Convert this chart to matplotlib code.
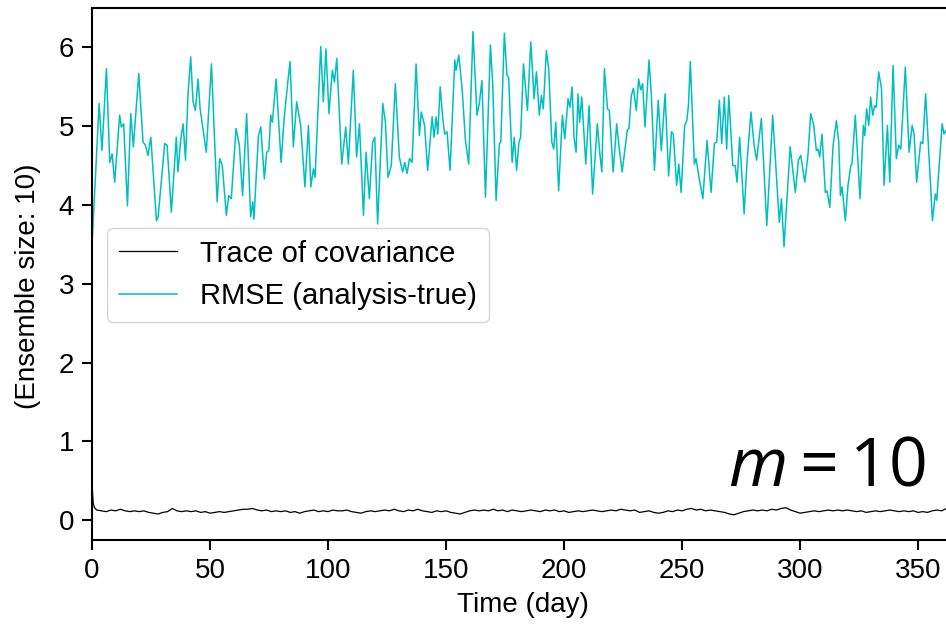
import matplotlib
matplotlib.use("Agg")
import matplotlib.pyplot as plt

# RMSE (analysis-true), turning points
rmse_day = [
    0.0, 3.0, 4.2, 6.1, 7.5, 8.5, 9.6, 11.7, 12.4, 13.4, 15.0, 16.4, 17.5, 19.8,
    21.6, 22.6, 23.7, 24.9, 27.3, 28.0, 30.8, 31.8, 33.6, 35.7, 36.4, 37.6, 38.6,
    39.6, 40.7, 41.8, 42.8, 43.8, 44.9, 45.8, 48.4, 50.6, 53.0, 54.1, 55.2, 56.9,
    57.9, 59.0, 61.0, 62.4, 63.8, 65.5, 67.2, 68.1, 68.6, 70.5, 71.5, 73.0, 74.0,
    74.9, 75.7, 76.4, 78.0, 80.1, 81.4, 82.8, 83.9, 85.3, 86.7, 88.4, 90.2, 91.7,
    92.7, 93.8, 94.5, 96.9, 98.0, 99.1, 100.4, 101.8, 102.7, 103.7, 105.8, 107.5,
    108.6, 110.7, 112.1, 113.3, 115.0, 116.1, 117.5, 118.9, 119.8, 121.0, 123.2,
    124.3, 125.4, 126.8, 128.5, 130.2, 131.6, 132.5, 133.5, 134.5, 135.6, 137.3,
    138.7, 139.5, 140.9, 142.2, 144.1, 144.9, 145.8, 146.5, 147.5, 148.6, 149.4,
    150.4, 151.7, 153.7, 154.2, 155.4, 156.8, 158.2, 159.6, 161.4, 163.1, 164.1,
    165.2, 166.7, 168.8, 169.8, 171.2, 172.6, 173.2, 174.7, 175.8, 176.5, 178.0,
    178.9, 179.9, 180.9, 181.6, 182.8, 184.5, 185.9, 187.3, 188.3, 189.5, 190.4,
    191.2, 192.5, 193.5, 194.8, 195.6, 196.5, 197.7, 199.3, 200.3, 201.7, 202.5,
    203.4, 204.2, 205.1, 205.9, 206.6, 207.5, 209.2, 210.6, 212.1, 214.1, 215.1,
    216.0, 217.1, 218.4, 219.2, 220.8, 222.3, 223.3, 224.6, 226.8, 227.5, 228.5,
    229.4, 230.6, 231.6, 232.5, 233.3, 234.3, 236.0, 237.0, 238.3, 239.9, 241.2,
    242.8, 244.3, 245.5, 246.3, 247.7, 248.6, 249.6, 251.1, 252.0, 252.7, 253.5,
    255.2, 255.9, 257.3, 258.8, 260.6, 262.3, 263.7, 264.7, 265.8, 266.8, 267.9,
    268.9, 269.8, 271.5, 272.5, 273.3, 274.4, 276.3, 277.5, 279.2, 280.6, 281.6,
    283.6, 285.9, 288.4, 291.2, 292.1, 293.2, 295.8, 298.0, 299.3, 300.3, 302.0,
    303.4, 304.5, 305.8, 306.9, 307.6, 308.3, 309.3, 310.7, 311.4, 312.6, 314.0,
    315.4, 316.4, 317.1, 317.8, 319.2, 320.3, 321.5, 322.0, 323.4, 325.4, 326.8,
    327.4, 328.2, 329.1, 329.9, 330.8, 331.6, 332.3, 333.3, 334.5, 335.6, 337.0,
    338.0, 339.4, 340.8, 341.8, 342.7, 344.6, 346.2, 347.5, 348.3, 349.4, 351.1,
    352.0, 353.2, 356.1, 357.3, 357.9, 360.2, 361.0, 361.9, 363.0, 364.5,
]
rmse_val = [
    3.50, 5.29, 4.69, 5.73, 4.54, 4.65, 4.29, 5.14, 4.99, 5.03, 3.99, 5.16, 4.74, 5.67,
    4.80, 4.76, 4.63, 4.86, 3.80, 3.85, 4.78, 4.76, 3.91, 4.86, 4.42, 4.84, 5.03,
    4.57, 5.43, 5.88, 5.31, 5.20, 5.60, 5.22, 4.67, 5.79, 4.04, 4.59, 4.50, 3.87,
    4.12, 4.08, 4.97, 4.76, 4.12, 5.16, 3.85, 4.04, 3.82, 4.88, 4.99, 4.33, 4.67,
    4.69, 5.14, 5.05, 5.60, 4.54, 5.10, 5.52, 5.82, 4.74, 5.31, 5.01, 4.23, 5.01,
    4.23, 4.46, 4.35, 6.01, 5.31, 5.98, 5.16, 5.71, 5.56, 5.86, 4.52, 4.99,
    4.52, 5.71, 4.61, 5.03, 3.87, 4.67, 4.08, 4.80, 4.86, 3.76, 5.29,
    5.05, 4.35, 4.50, 5.54, 4.61, 4.42, 4.54, 4.40, 4.59, 4.54, 5.79,
    4.88, 5.18, 5.01, 4.44, 5.12, 4.86, 5.12, 4.90, 5.50, 5.10, 4.90,
    4.93, 4.44, 5.84, 5.71, 5.90, 5.48, 4.82, 4.52, 6.20, 5.14, 5.29,
    5.58, 4.10, 6.03, 5.52, 4.06, 4.78, 4.80, 6.18, 5.65, 5.62, 4.54,
    4.86, 4.44, 4.80, 4.86, 5.79, 5.20, 6.07, 5.35, 5.69, 5.14, 5.39,
    5.22, 5.96, 5.73, 4.80, 4.71, 5.05, 4.18, 5.14, 4.84, 5.35, 5.24,
    5.50, 4.86, 4.67, 5.41, 5.05, 5.37, 4.52, 5.26, 4.14, 5.03, 4.67,
    4.42, 5.73, 5.22, 5.20, 4.42, 5.03, 4.74, 4.42, 4.95, 4.97, 5.39,
    5.48, 5.20, 5.60, 5.46, 5.54, 4.99, 5.84, 5.39, 4.44, 5.33, 4.69,
    5.41, 4.37, 4.93, 4.90, 4.25, 4.52, 4.16, 5.01, 5.07, 5.26, 5.82,
    4.52, 4.59, 4.33, 4.08, 4.82, 4.16, 4.78, 4.80, 5.33, 4.78, 5.37,
    4.71, 5.39, 4.50, 4.50, 4.29, 4.86, 3.89, 4.54, 5.18, 4.74, 4.57,
    5.10, 3.74, 5.14, 3.78, 4.08, 3.47, 4.74, 4.16, 4.57, 4.63, 4.29,
    4.65, 5.16, 5.01, 4.69, 4.71, 4.61, 4.90, 4.16, 4.18, 3.97, 4.76,
    5.07, 4.80, 4.12, 4.23, 3.80, 4.25, 4.50, 4.52, 5.14, 4.08, 5.01,
    4.88, 5.22, 5.01, 5.37, 5.14, 5.26, 5.24, 5.69, 5.48, 4.25, 5.01,
    4.29, 5.77, 4.59, 4.76, 4.71, 5.75, 4.67, 5.01, 4.90, 4.29, 4.80,
    4.78, 5.41, 3.80, 4.14, 4.06, 5.03, 4.90, 4.95, 4.85, 4.90,
]

# trace of the analysis covariance
trace_day = [0, 0.5, 1] + list(range(2, 366, 2))
trace_val = [
    0.45, 0.22, 0.16,
    0.13, 0.12, 0.11, 0.13, 0.12, 0.14, 0.12, 0.11, 0.12, 0.11,
    0.12, 0.10, 0.09, 0.08, 0.10, 0.11, 0.15, 0.12, 0.11, 0.12,
    0.11, 0.12, 0.10, 0.11, 0.09, 0.10, 0.11, 0.10, 0.11, 0.12,
    0.13, 0.14, 0.14, 0.15, 0.13, 0.12, 0.13, 0.11, 0.12, 0.11,
    0.12, 0.10, 0.11, 0.09, 0.11, 0.12, 0.13, 0.11, 0.12, 0.11,
    0.13, 0.12, 0.12, 0.13, 0.11, 0.10, 0.09, 0.11, 0.12, 0.11,
    0.12, 0.13, 0.12, 0.14, 0.12, 0.11, 0.13, 0.12, 0.14, 0.12,
    0.11, 0.10, 0.12, 0.11, 0.12, 0.10, 0.09, 0.08, 0.10, 0.12,
    0.13, 0.12, 0.13, 0.12, 0.14, 0.12, 0.13, 0.11, 0.13, 0.12,
    0.11, 0.12, 0.13, 0.12, 0.11, 0.13, 0.12, 0.13, 0.11, 0.12,
    0.10, 0.11, 0.12, 0.11, 0.12, 0.13, 0.12, 0.11, 0.12, 0.13,
    0.12, 0.14, 0.13, 0.12, 0.13, 0.10, 0.11, 0.12, 0.10, 0.09,
    0.10, 0.12, 0.11, 0.13, 0.12, 0.14, 0.15, 0.13, 0.14, 0.12,
    0.13, 0.12, 0.11, 0.10, 0.08, 0.07, 0.09, 0.11, 0.12, 0.13,
    0.12, 0.13, 0.12, 0.14, 0.13, 0.15, 0.16, 0.13, 0.11, 0.09,
    0.10, 0.11, 0.12, 0.11, 0.12, 0.13, 0.12, 0.13, 0.12, 0.13,
    0.12, 0.11, 0.12, 0.10, 0.11, 0.12, 0.11, 0.12, 0.13, 0.12,
    0.11, 0.12, 0.11, 0.12, 0.10, 0.11, 0.10, 0.12, 0.13, 0.12,
    0.15, 0.14,
]

x_ticks = [0, 50, 100, 150, 200, 250, 300, 350]
y_ticks = [0, 1, 2, 3, 4, 5, 6]

plt.rcParams['font.family'] = ['Liberation Sans', 'DejaVu Sans']
plt.rcParams['mathtext.fontset'] = 'custom'
plt.rcParams['mathtext.rm'] = 'Open Sans'
plt.rcParams['mathtext.it'] = 'Open Sans:italic'

fig = plt.figure(figsize=(9.46, 6.29), dpi=100)
# right spine falls just outside the picture, as in the original crop
ax = fig.add_axes([0.0973, 0.1415, 0.9106, 0.8458])

ax.plot(trace_day, trace_val, color='k', lw=0.9, label='Trace of covariance')
ax.plot(rmse_day, rmse_val, color='c', lw=1.1, label='RMSE (analysis-true)')

ax.set_xlim(0, 365)
ax.set_ylim(-0.25, 6.5)
ax.set_xticks(x_ticks)
ax.set_yticks(y_ticks)
ax.tick_params(labelsize=20, length=7, width=1.5, pad=6)
for sp in ax.spines.values():
    sp.set_linewidth(1.5)

ax.set_xlabel('Time (day)', fontsize=20, labelpad=6)
fig.text(28 / 946, 1 - 286 / 629, '(Ensemble size: 10)', rotation=90,
         ha='center', va='center', fontsize=20)

ax.legend(loc='upper left', bbox_to_anchor=(0.0174, 0.5865), borderaxespad=0,
          fontsize=21)

ax.text(353.4, 0.445, r'$m{=}10$', fontsize=49, ha='right', va='baseline')

fig.savefig('out.png', dpi=100)
